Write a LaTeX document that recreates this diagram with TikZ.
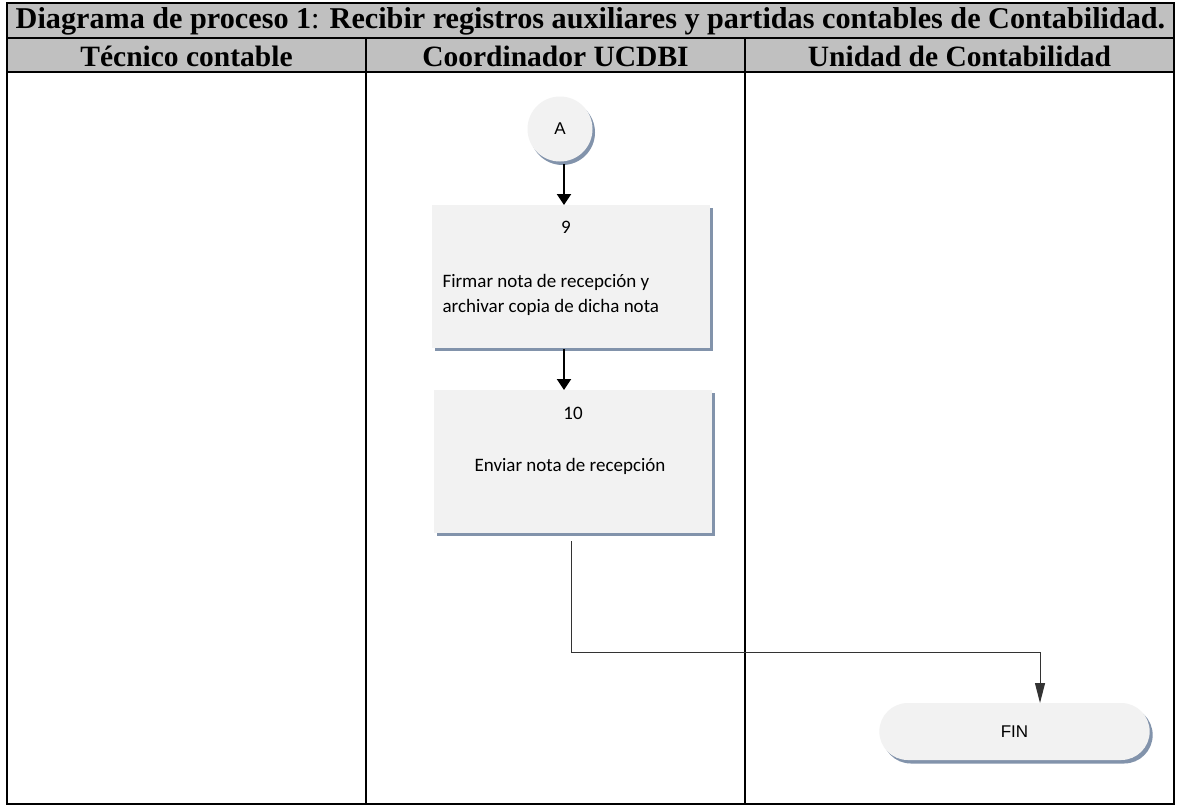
\documentclass[tikz,border=0pt]{standalone}
\usepackage{fontspec}
\setmainfont{Liberation Serif}
\newfontfamily\boxfont{Carlito}
\newfontfamily\symfont{Liberation Sans}
\usetikzlibrary{arrows.meta,shadows,shapes.misc}
\definecolor{headgray}{HTML}{C0C0C0}
\definecolor{shapefill}{HTML}{F2F2F2}
\definecolor{shadowblue}{HTML}{8293AB}
\tikzset{
  frame/.style={line width=2pt, draw=black},
  headtext/.style={font=\bfseries\fontsize{29.5}{32}\selectfont, anchor=center},
  procbox/.style={draw=none, fill=shapefill, minimum width=278pt, minimum height=143pt,
    drop shadow={shadow xshift=3pt, shadow yshift=-3pt, fill=shadowblue, opacity=1}},
  connector/.style={circle, draw=none, fill=shapefill, minimum size=65pt, inner sep=0pt,
    font=\symfont\fontsize{17}{19}\selectfont,
    drop shadow={shadow xshift=2.5pt, shadow yshift=-3.5pt, fill=shadowblue, opacity=1}},
  terminal/.style={rounded rectangle, draw=none, fill=shapefill, minimum width=277pt, minimum height=57pt,
    font=\symfont\fontsize{17}{19}\selectfont,
    drop shadow={shadow xshift=3pt, shadow yshift=-3.5pt, fill=shadowblue, opacity=1}},
  flowarrow/.style={line width=2pt, -{Triangle[length=11pt,width=14pt]}},
  thinflow/.style={line width=1pt, draw=black!80, -{Triangle[length=20pt,width=10pt]}},
  boxtext/.style={font=\boxfont\fontsize{19}{25}\selectfont}
}
\begin{document}
\begin{tikzpicture}[x=1pt,y=-1pt]
\useasboundingbox (0,0) rectangle (1182,806);
\fill[white] (0,0) rectangle (1182,806);
% header bands
\fill[headgray] (7,3) rectangle (1174,72);
% table grid
\draw[frame] (7,3) rectangle (1174,804);
\draw[frame] (7,38) -- (1174,38);
\draw[frame] (7,72) -- (1174,72);
\draw[frame] (366,38) -- (366,804);
\draw[frame] (745,38) -- (745,804);
% titles
\node[font=\fontsize{30.2}{32}\selectfont] (title) at (590.5,21) {\textbf{Diagrama de proceso 1}: \textbf{Recibir registros auxiliares y partidas contables de Contabilidad.}};
\node[headtext] (lane1) at (186.5,56) {Técnico contable};
\node[headtext] (lane2) at (555.5,56) {Coordinador UCDBI};
\node[headtext] (lane3) at (959.5,56) {Unidad de Contabilidad};
% flow shapes
\node[connector] (A) at (560,129) {A};
\node[procbox] (p9) at (571,276.5) {};
\node[boxtext] (p9num) at (566,227) {9};
\node[boxtext, anchor=west, align=left] (p9txt) at (439,294.5) {Firmar nota de recepción y\\archivar copia de dicha nota};
\node[procbox] (p10) at (573,461.5) {};
\node[boxtext] (p10num) at (573,413) {10};
\node[boxtext] (p10txt) at (570,466) {Enviar nota de recepción};
\node[terminal] (fin) at (1014.5,731.5) {FIN};
% connectors
\coordinate (bend1) at (571,652);
\coordinate (bend2) at (1040,652);
\draw[flowarrow] (564,164) -- (564,205);
\draw[flowarrow] (564,349) -- (564,390);
\draw[thinflow] (571,541) -- (bend1) -- (bend2) -- (1040,703);
\end{tikzpicture}
\end{document}
